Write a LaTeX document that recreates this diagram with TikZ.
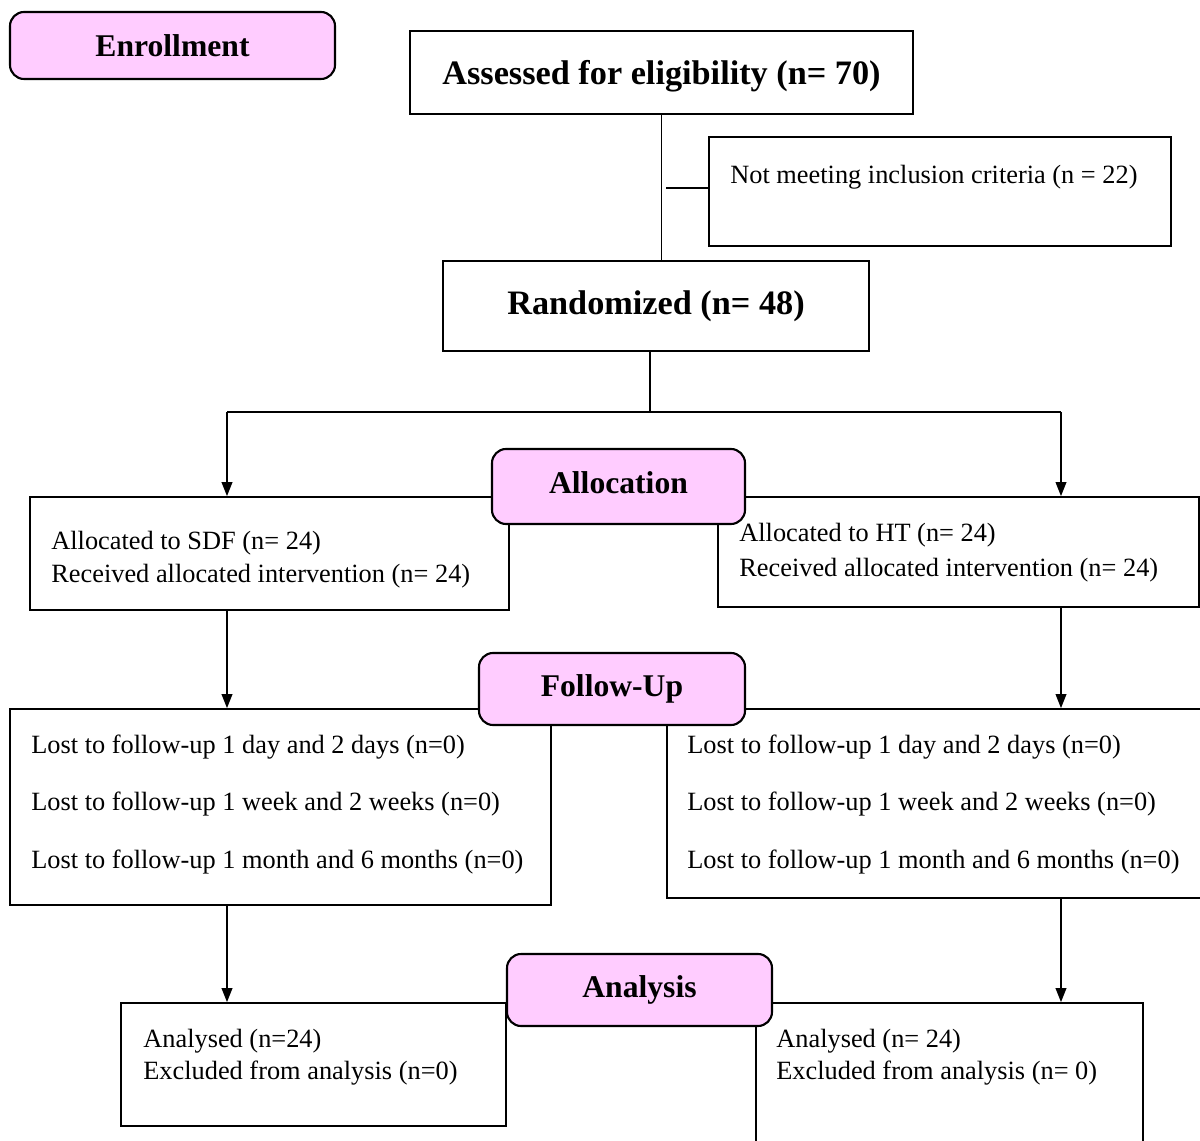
\documentclass[tikz,border=0pt]{standalone}
\usepackage{fontspec}
\setmainfont{Liberation Serif}
\usetikzlibrary{arrows.meta}
\definecolor{stagepink}{HTML}{FFCCFF}
\newcommand{\px}{0.02cm}
\tikzset{
  box/.style={draw, line width=0.9pt, inner sep=0pt},
  bigbox/.style={box, font=\fontsize{19.5}{24}\selectfont\bfseries},
  stage/.style={draw, line width=1.2pt, rounded corners=8pt, fill=stagepink, inner sep=0pt,
    font=\fontsize{18}{22}\selectfont\bfseries},
  txt/.style={inner sep=0pt, anchor=base west, align=left},
  link/.style={line width=0.6pt},
  flow/.style={line width=1.1pt},
  flowarrow/.style={flow, -{Triangle[length=8pt,width=6pt]}},
}
\begin{document}
\begin{tikzpicture}[x=\px, y=-\px]
        \useasboundingbox (0,0) rectangle (1200,1141);
        \clip (0,0) rectangle (1200,1141);
        % coordinates for the connectors
        \coordinate (excljoin) at (666,188);
        \coordinate (split)    at (650,412);
        \coordinate (colL)     at (227,412);
        \coordinate (colR)     at (1061,412);
        % drawing the boxes
        \node[bigbox, text depth=0pt, minimum width=503*\px, minimum height=83*\px] (assess) at (661.5,72.5) {Assessed for eligibility (n= 70)};
        \node[box,    minimum width=462*\px, minimum height=109*\px] (excl)   at (940,191.5)   {};
        \node[bigbox, minimum width=426*\px, minimum height=90*\px]  (random) at (656,306)     {Randomized (n= 48)};
        \node[box,    minimum width=479*\px, minimum height=113*\px] (sdf)    at (269.5,553.5) {};
        \node[box,    minimum width=481*\px, minimum height=110*\px] (ht)     at (958.5,552)   {};
        \node[box,    minimum width=541*\px, minimum height=196*\px] (lfu)    at (280.5,807)   {};
        \node[box,    minimum width=563*\px, minimum height=189*\px] (rfu)    at (948.5,803.5) {};
        \node[box,    minimum width=385*\px, minimum height=123*\px] (lan)    at (313.5,1064.5) {};
        \node[box,    minimum width=387*\px, minimum height=167*\px] (ran)    at (949.5,1086.5) {};
        % drawing the texts of the boxes (base = last line)
        \node[txt, font=\fontsize{15}{19}\selectfont]   (excltxt) at (730,184)  {Not meeting inclusion criteria (n = 22)};
        \node[txt, font=\fontsize{15}{19.3}\selectfont] (sdftxt)  at (51,583)   {Allocated to SDF (n= 24)\\Received allocated intervention (n= 24)};
        \node[txt, font=\fontsize{15}{20.4}\selectfont] (httxt)   at (739,577)  {Allocated to HT (n= 24)\\Received allocated intervention (n= 24)};
        \node[txt, font=\fontsize{15}{32.6}\selectfont] (lfutxt)  at (31,868)   {Lost to follow-up 1 day and 2 days (n=0)\\Lost to follow-up 1 week and 2 weeks (n=0)\\Lost to follow-up 1 month and 6 months (n=0)};
        \node[txt, font=\fontsize{15}{32.6}\selectfont] (rfutxt)  at (687,868)  {Lost to follow-up 1 day and 2 days (n=0)\\Lost to follow-up 1 week and 2 weeks (n=0)\\Lost to follow-up 1 month and 6 months (n=0)};
        \node[txt, font=\fontsize{15}{18.1}\selectfont] (lantxt)  at (143,1079) {Analysed (n=24)\\Excluded from analysis (n=0)};
        \node[txt, font=\fontsize{15}{18.1}\selectfont] (rantxt)  at (776,1079) {Analysed (n= 24)\\Excluded from analysis (n= 0)};
        % drawing the stage labels
        \node[stage, minimum width=325*\px, minimum height=67*\px] (enroll) at (172.5,45.5) {Enrollment};
        \node[stage, text depth=4.5pt, minimum width=253*\px, minimum height=75*\px] (alloc) at (618.5,486.5) {Allocation};
        \node[stage, minimum width=266*\px, minimum height=72*\px] (follow) at (612,689)   {Follow-Up};
        \node[stage, minimum width=265*\px, minimum height=72*\px] (anal)   at (639.5,990) {Analysis};
        % drawing the connectors
        \draw[link] (assess.south) -- (assess.south |- random.north);
        \draw[link] (excljoin) -- (excljoin -| excl.west);
        \draw[link] (random.south -| split) -- (split);
        \draw[flow] (colL) -- (colR);
        \draw[flowarrow] (colL) -- (colL |- sdf.north);
        \draw[flowarrow] (colR) -- (colR |- ht.north);
        \draw[flowarrow] (colL |- sdf.south) -- (colL |- lfu.north);
        \draw[flowarrow] (colR |- ht.south)  -- (colR |- rfu.north);
        \draw[flowarrow] (colL |- lfu.south) -- (colL |- lan.north);
        \draw[flowarrow] (colR |- rfu.south) -- (colR |- ran.north);
      \end{tikzpicture}
\end{document}
